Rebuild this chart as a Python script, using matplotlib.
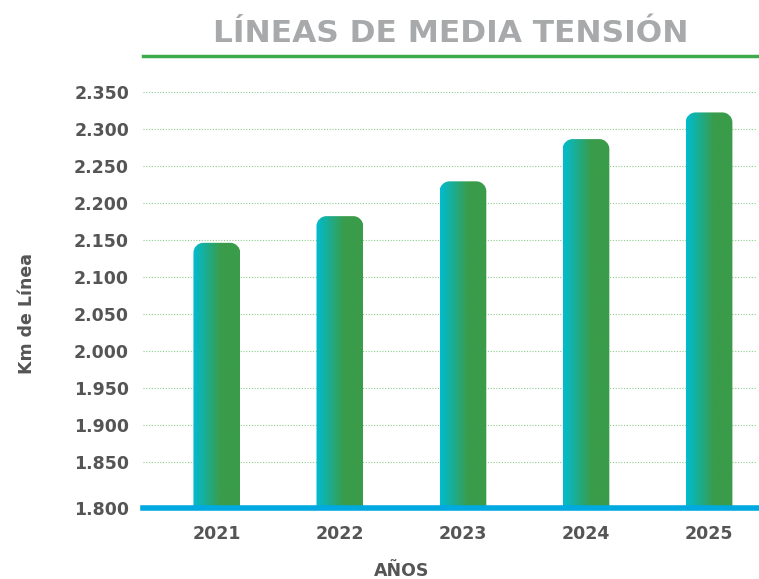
import numpy as np
import matplotlib
matplotlib.use("Agg")
import matplotlib.pyplot as plt
from matplotlib.path import Path
from matplotlib.patches import PathPatch
from matplotlib.colors import LinearSegmentedColormap
from matplotlib.lines import Line2D

years = ["2021", "2022", "2023", "2024", "2025"]
km = [2146, 2182, 2229, 2286, 2322]
tick_vals = [1850, 1900, 1950, 2000, 2050, 2100, 2150, 2200, 2250, 2300, 2350]
tick_labels = ["1.850", "1.900", "1.950", "2.000", "2.050", "2.100",
               "2.150", "2.200", "2.250", "2.300", "2.350"]
y_bottom = 1788  # axis floor, labelled 1.800 in the original
bottom_label = "1.800"

plt.rcParams['font.family'] = ['DejaVu Sans']

fig = plt.figure(figsize=(7.59, 5.79), dpi=100)
ax = fig.add_axes([143 / 759, 1 - 508 / 579, 614 / 759, (508 - 91.7) / 579])
ax.set_xlim(-0.6, 4.39)
ax.set_ylim(y_bottom, 2350)

for s in ax.spines.values():
    s.set_visible(False)

ax.set_yticks([y_bottom] + tick_vals)
ax.set_yticklabels([bottom_label] + tick_labels)
ax.set_xticks(range(len(years)))
ax.set_xticklabels(years)
ax.tick_params(length=0, labelsize=12.5, labelcolor="#555555")
ax.tick_params(axis="y", pad=10)
ax.tick_params(axis="x", pad=12)
for lab in ax.get_xticklabels() + ax.get_yticklabels():
    lab.set_fontweight("bold")

# dotted green grid
for v in tick_vals:
    ax.axhline(v, color="#5cb85c", lw=0.8, ls=(0, (1, 1.5)), alpha=0.7, zorder=1)

cmap = LinearSegmentedColormap.from_list(
    "bar", [(0, "#00bcd0"), (0.6, "#3a9c4a"), (1, "#3a9c4a")])
grad = np.linspace(0, 1, 256).reshape(1, -1)

fig.canvas.draw()
bw = 0.38
r = 10  # corner radius in pixels
for i, v in enumerate(km):
    (x0, y0), (x1, y1) = ax.transData.transform([(i - bw / 2, y_bottom), (i + bw / 2, v)])
    k = 0.5523 * r
    verts = [(x0, y0), (x0, y1 - r), (x0, y1 - r + k), (x0 + r - k, y1), (x0 + r, y1),
             (x1 - r, y1), (x1 - r + k, y1), (x1, y1 - r + k), (x1, y1 - r),
             (x1, y0), (x0, y0)]
    codes = [Path.MOVETO, Path.LINETO, Path.CURVE4, Path.CURVE4, Path.CURVE4,
             Path.LINETO, Path.CURVE4, Path.CURVE4, Path.CURVE4,
             Path.LINETO, Path.CLOSEPOLY]
    clip = PathPatch(Path(verts, codes), transform=None, facecolor="none", edgecolor="none")
    ax.add_patch(clip)
    im = ax.imshow(grad, cmap=cmap, aspect="auto", zorder=2,
                   extent=(i - bw / 2, i + bw / 2, y_bottom, v))
    im.set_clip_path(clip)

ax.set_xlim(-0.6, 4.39)
ax.set_ylim(y_bottom, 2350)
ax.axhline(y_bottom, color="#00a9e0", lw=4, zorder=3, clip_on=False)

fig.text(451 / 759, 1 - 33 / 579, "LÍNEAS DE MEDIA TENSIÓN", ha="center", va="center",
         fontsize=22.5, fontweight="bold", color="#a7a9aa")
fig.add_artist(Line2D([143 / 759, 1], [1 - 56 / 579, 1 - 56 / 579], color="#3daa4b", lw=2.5))

fig.text(402 / 759, 1 - 571 / 579, "AÑOS", ha="center", va="center",
         fontsize=12.5, fontweight="bold", color="#555555")
fig.text(27 / 759, 1 - 313 / 579, "Km de Línea", ha="center", va="center", rotation=90,
         fontsize=12.5, fontweight="bold", color="#555555")

fig.savefig("out.png", dpi=100)
